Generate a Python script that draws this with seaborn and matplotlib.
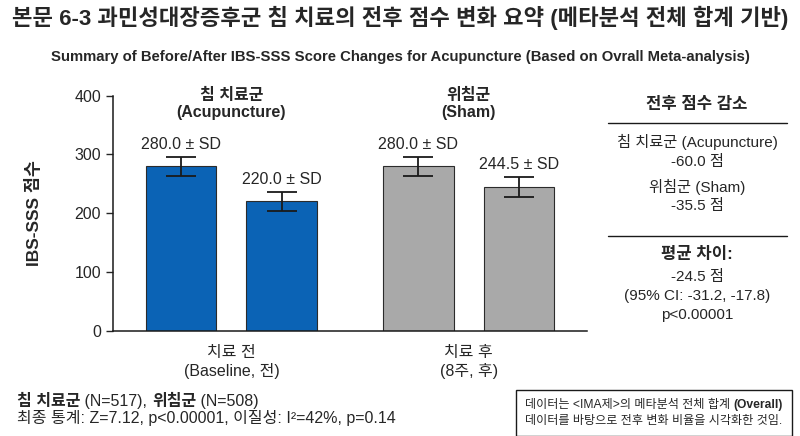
import numpy as np
import pandas as pd
import seaborn as sns
import matplotlib.pyplot as plt
from matplotlib.lines import Line2D
from matplotlib.container import BarContainer
from matplotlib.offsetbox import TextArea, HPacker, VPacker, AnchoredOffsetbox

# data
groups = ['침 치료군', '위침군']
groups_en = ['Acupuncture', 'Sham']
times = ['치료 전', '치료 후']
time_labels = ['치료 전\n(Baseline, 전)', '치료 후\n(8주, 후)']
acu_means = [280.0, 220.0]
sham_means = [280.0, 244.5]
acu_sd = [16, 16]
sham_sd = [16, 17]
reductions = [-60.0, -35.5]
mean_diff = -24.5
ci = (-31.2, -17.8)
n_acu, n_sham = 517, 508

group_colors = ['#0b63b5', '#a9a9a9']
edge = '#2b2b2b'

sns.set_style('white')
fonts = ['Liberation Sans', 'Noto Sans CJK KR', 'DejaVu Sans']
plt.rcParams['font.family'] = fonts

df = pd.DataFrame({
    'group': np.repeat(groups, 2),
    'time': times * 2,
    'score': acu_means + sham_means,
    'sd': acu_sd + sham_sd,
})

fig = plt.figure(figsize=(8, 4.36), dpi=100)
ax = fig.add_axes([0.141, 0.2415, 0.593, 0.539])

sns.barplot(data=df, x='group', y='score', hue='time', hue_order=times,
            order=groups, width=0.846, gap=0.3, legend=False, ax=ax,
            edgecolor=edge, linewidth=0.8, errorbar=None)

bar_sets = [c for c in ax.containers if isinstance(c, BarContainer)]

# colour by group, add sd error bars and value labels
for t_i, cont in enumerate(bar_sets):
    for g_i, bar in enumerate(cont):
        bar.set_facecolor(group_colors[g_i])
        row = df[(df.group == groups[g_i]) & (df.time == times[t_i])].iloc[0]
        xc = bar.get_x() + bar.get_width() / 2
        ax.errorbar(xc, row.score, yerr=row.sd, color='#1a1a1a', capsize=11,
                    elinewidth=1.3, capthick=1.3)
        ax.text(xc, row.score + row.sd + 8, f'{row.score:.1f} ± SD',
                ha='center', va='bottom', fontsize=11.5)

# group names above the bars
for g_i, (g, g_en) in enumerate(zip(groups, groups_en)):
    ax.text(g_i, 386, f'{g}\n({g_en})', ha='center', va='center',
            fontsize=11.5, fontweight='bold', linespacing=1.2, clip_on=False)

ax.set_ylim(0, 400)
ax.set_xlim(-0.5, 1.5)
ax.set_yticks([0, 100, 200, 300, 400])
ax.tick_params(axis='y', labelsize=11.5, length=5, width=1, direction='out', left=True)
ax.tick_params(axis='x', length=0, labelsize=11.5, pad=10)
ax.set_xticks([0, 1])
ax.set_xticklabels(time_labels, linespacing=1.25)
ax.set_xlabel('')
ax.set_ylabel('IBS-SSS 점수', fontsize=12.5, fontweight='bold')
ax.yaxis.set_label_coords(-0.15, 0.5)
for s in ['top', 'right']:
    ax.spines[s].set_visible(False)
for s in ['left', 'bottom']:
    ax.spines[s].set_color('#1a1a1a')
    ax.spines[s].set_linewidth(1.1)

# titles
fig.text(0.5, 1 - 18 / 436, '본문 6-3 과민성대장증후군 침 치료의 전후 점수 변화 요약 (메타분석 전체 합계 기반)',
         ha='center', va='center', fontsize=16, fontweight='bold')
fig.text(0.5, 1 - 57 / 436,
         'Summary of Before/After IBS-SSS Score Changes for Acupuncture (Based on Ovrall Meta-analysis)',
         ha='center', va='center', fontsize=10.7, fontweight='bold')

# right summary panel
px = 697 / 800
def ry(y):
    return 1 - y / 436

fig.text(px, ry(104), '전후 점수 감소', ha='center', va='center', fontsize=12, fontweight='bold')
fig.add_artist(Line2D([608 / 800, 787 / 800], [ry(122.7)] * 2, color='#1a1a1a', lw=1))
fig.text(px, ry(141.7), f'{groups[0]} ({groups_en[0]})', ha='center', va='center', fontsize=11)
fig.text(px, ry(161.7), f'{reductions[0]:.1f} 점', ha='center', va='center', fontsize=11)
fig.text(px, ry(186.7), f'{groups[1]} ({groups_en[1]})', ha='center', va='center', fontsize=11)
fig.text(px, ry(206), f'{reductions[1]:.1f} 점', ha='center', va='center', fontsize=11)
fig.add_artist(Line2D([608 / 800, 787 / 800], [ry(235.7)] * 2, color='#1a1a1a', lw=1))
fig.text(px, ry(255), '평균 차이:', ha='center', va='center', fontsize=12, fontweight='bold')
fig.text(px, ry(276.7), f'{mean_diff:.1f} 점', ha='center', va='center', fontsize=11)
fig.text(px, ry(296), f'(95% CI: {ci[0]:.1f}, {ci[1]:.1f})', ha='center', va='center', fontsize=11)
fig.text(px, ry(315), 'p<0.00001', ha='center', va='center', fontsize=11)

# bottom-left notes with mixed weights
def ta(s, bold=False, size=11.5):
    return TextArea(s, textprops=dict(fontsize=size, fontweight='bold' if bold else 'normal',
                                      family=fonts))

line1 = HPacker(children=[ta(groups[0], True), ta(f' (N={n_acu}), '), ta(groups[1], True),
                          ta(f' (N={n_sham})')], sep=0, pad=0, align='baseline')
line2 = ta('최종 통계: Z=7.12, p<0.00001, 이질성: I²=42%, p=0.14')
notes = VPacker(children=[line1, line2], sep=1, pad=0, align='left')
fig.add_artist(AnchoredOffsetbox(loc='upper left', child=notes, pad=0, borderpad=0,
                                 bbox_to_anchor=(17 / 800, ry(394)),
                                 bbox_transform=fig.transFigure, frameon=False))

# bottom-right source box
b1 = HPacker(children=[ta('데이터는 <IMA제>의 메타분석 전체 합계 ', size=8.7),
                       ta('(Overall)', True, 8.7)], sep=0, pad=0, align='baseline')
b2 = ta('데이터를 바탕으로 전후 변화 비율을 시각화한 것임.', size=8.7)
box = AnchoredOffsetbox(loc='lower right', child=VPacker(children=[b1, b2], sep=3, pad=0, align='left'),
                        pad=0.35, borderpad=0, bbox_to_anchor=(788 / 800, ry(432)),
                        bbox_transform=fig.transFigure, frameon=True)
box.patch.set_edgecolor('#1a1a1a')
box.patch.set_linewidth(1)
box.patch.set_boxstyle('square')
fig.add_artist(box)

fig.savefig('out.png', dpi=100)
